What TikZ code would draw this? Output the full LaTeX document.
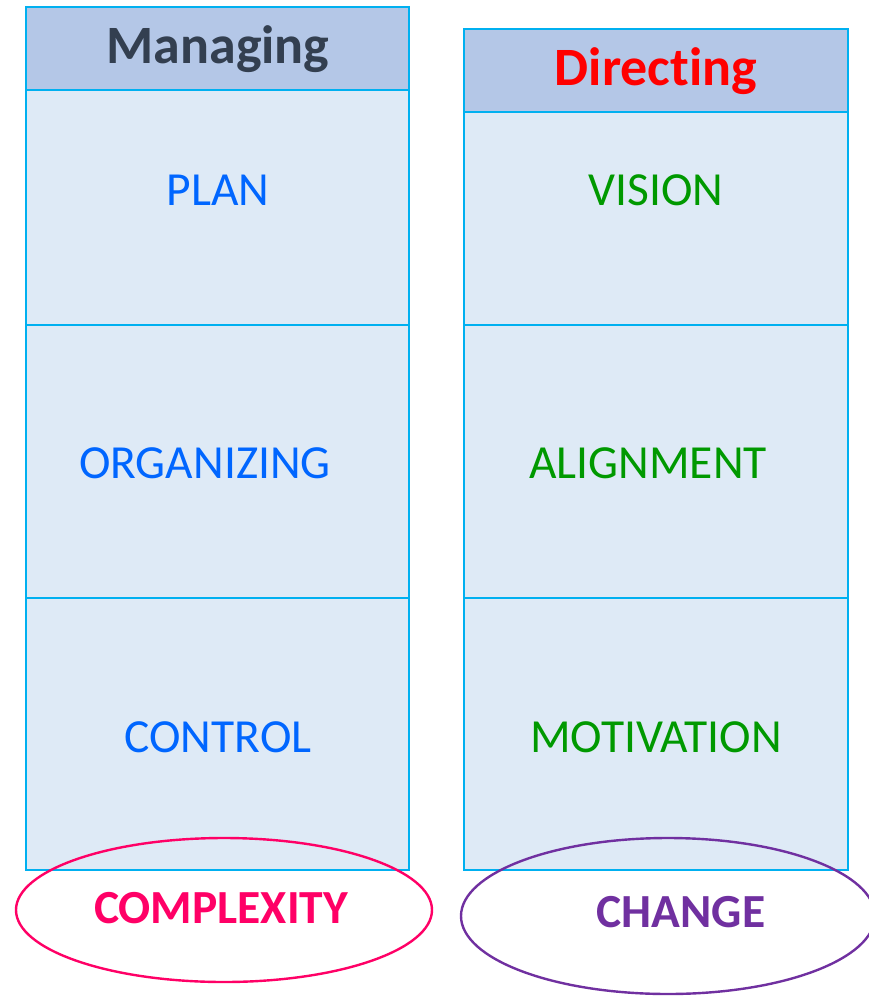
\documentclass[tikz,border=0pt]{standalone}
\usepackage{fontspec}
\setmainfont[Ligatures=NoCommon]{Carlito}
\usepackage{xcolor}
\usepackage{tikz}

\definecolor{rowfill}{HTML}{DEEAF6}
\definecolor{headfill}{HTML}{B4C7E7}
\definecolor{edgecyan}{HTML}{00B0F0}
\definecolor{headdark}{HTML}{333F50}
\definecolor{itemblue}{HTML}{0066FF}
\definecolor{itemgreen}{HTML}{009900}
\definecolor{complexpink}{HTML}{FF0066}
\definecolor{changepurple}{HTML}{7030A0}

\tikzset{
  colbox/.style={draw=edgecyan, line width=2.2pt, fill=rowfill, rectangle, inner sep=0pt},
  headbox/.style={colbox, fill=headfill},
  headtext/.style={font=\fontsize{54}{60}\selectfont\bfseries, anchor=center},
  itemtext/.style={font=\fontsize{47.5}{52}\selectfont, anchor=center},
  ringtext/.style={font=\fontsize{47.5}{52}\selectfont\bfseries, anchor=center},
}

\begin{document}
\begin{tikzpicture}[x=1pt, y=-1pt]
      \useasboundingbox (0,0) rectangle (869,997);

      % --- left column: managing ---
      \node[colbox, minimum width=383pt, minimum height=235pt] (plan) at (217.5, 207.5) {};
      \node[colbox, minimum width=383pt, minimum height=273pt] (orga) at (217.5, 461.5) {};
      \node[colbox, minimum width=383pt, minimum height=272pt] (ctrl) at (217.5, 734) {};
      \node[headbox, minimum width=383pt, minimum height=83pt] (mhead) at (217.5, 48.5) {};

      % --- right column: directing ---
      \node[colbox, minimum width=384pt, minimum height=213pt] (visn) at (656, 218.5) {};
      \node[colbox, minimum width=384pt, minimum height=273pt] (algn) at (656, 461.5) {};
      \node[colbox, minimum width=384pt, minimum height=272pt] (motv) at (656, 734) {};
      \node[headbox, minimum width=384pt, minimum height=83pt] (dhead) at (656, 70.5) {};

      % --- header labels ---
      \node[headtext, headdark] (mtitle) at (218, 49) {Managing};
      \node[headtext, red] (dtitle) at (656, 71) {Direct\kern0pt ing};

      % --- cell labels ---
      \node[itemtext, itemblue] (plantxt) at (218, 190) {PLAN};
      \node[itemtext, itemblue] (orgatxt) at (205, 463) {ORGANIZING};
      \node[itemtext, itemblue] (ctrltxt) at (218, 737) {CONTROL};
      \node[itemtext, itemgreen] (visntxt) at (656, 190) {VISION};
      \node[itemtext, itemgreen] (algntxt) at (648, 463) {ALIGNMENT};
      \node[itemtext, itemgreen] (motvtxt) at (656, 737) {MOTIVATION};

      % --- ellipses at the foot, drawn over the boxes ---
      \draw[complexpink, line width=2.4pt] (224, 910) ellipse (208 and 72);
      \draw[changepurple, line width=2.4pt] (668, 916) ellipse (207 and 78);
      \node[ringtext, complexpink] (cplx) at (221, 908) {COMPLEXITY};
      \node[ringtext, changepurple] (chng) at (681, 912) {CHANGE};
    \end{tikzpicture}
\end{document}
